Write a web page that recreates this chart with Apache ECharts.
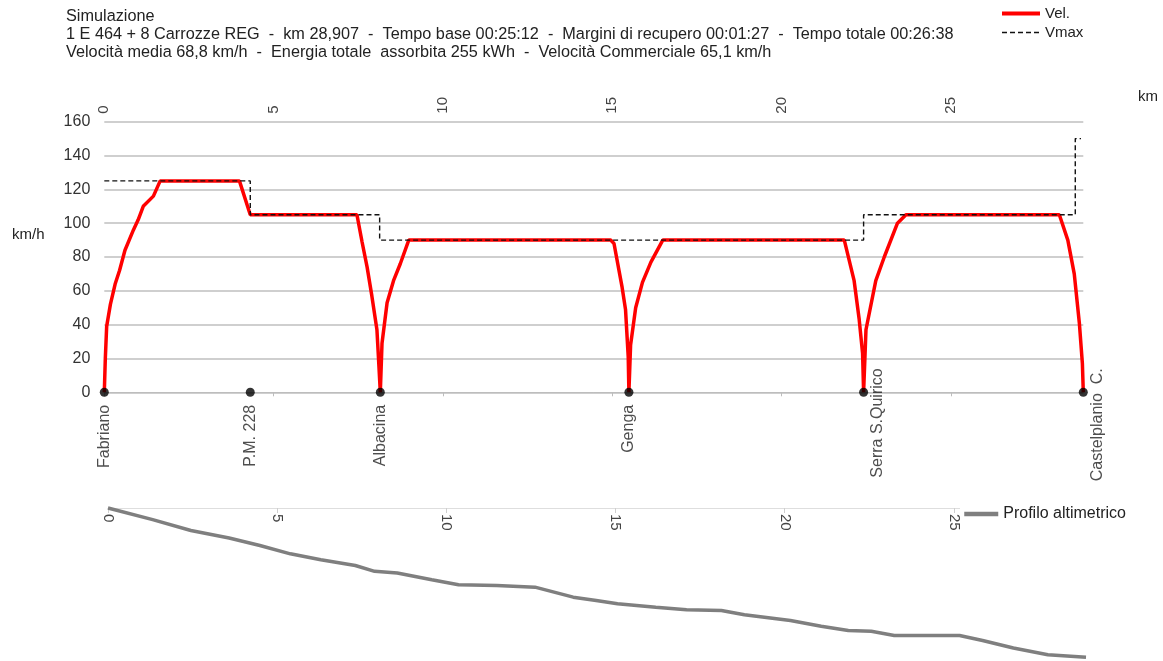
<!DOCTYPE html>
<html>
<head>
<meta charset="utf-8">
<script src="https://cdn.jsdelivr.net/npm/echarts@6/dist/echarts.min.js"></script>
<style>
  html, body { margin: 0; padding: 0; background: #fff; }
  #chart { width: 1163px; height: 661px; }
</style>
</head>
<body>
<div id="chart"></div>
<script>
// Header lines of the run summary
const headerLines = [
  'Simulazione',
  '1 E 464 + 8 Carrozze REG  -  km 28,907  -  Tempo base 00:25:12  -  Margini di recupero 00:01:27  -  Tempo totale 00:26:38',
  'Velocità media 68,8 km/h  -  Energia totale  assorbita 255 kWh  -  Velocità Commerciale 65,1 km/h'
];

// Speed profile (km, km/h)
const velKm = [0, 0.03, 0.07, 0.18, 0.32, 0.45, 0.61, 0.86, 1.0, 1.15, 1.45, 1.65,
  3.99, 4.31,
  7.46, 7.61, 7.76, 7.90, 8.05, 8.11, 8.15,
  8.20, 8.35, 8.54, 8.74, 8.99,
  14.95, 15.05, 15.29, 15.39, 15.47, 15.49,
  15.54, 15.69, 15.89, 16.14, 16.49,
  21.85, 22.14, 22.29, 22.39, 22.42,
  22.49, 22.78, 23.03, 23.42, 23.67,
  28.20, 28.45, 28.64, 28.79, 28.88, 28.907];
const velKmh = [0, 20, 39, 52, 64, 72, 84, 96, 102, 110, 116, 125,
  125, 105,
  105, 89, 74, 57, 37, 15, 0,
  29, 53, 66, 76, 90,
  90, 88, 62, 49, 21, 0,
  28, 50, 65, 77, 90,
  90, 66, 43, 23, 0,
  37, 66, 80, 100, 105,
  105, 90, 70, 41, 17, 0];

// Line speed limit (step profile)
const vmaxKm  = [0, 4.31, 4.31, 8.13, 8.13, 22.42, 22.42, 28.67, 28.67, 28.84];
const vmaxKmh = [125, 125, 105, 105, 90, 90, 105, 105, 150, 150];

// Stations and their kilometric position
const stationNames = ['Fabriano', 'P.M. 228', 'Albacina', 'Genga', 'Serra S.Quirico', 'Castelplanio  C.'];
const stationKm    = [0, 4.31, 8.15, 15.49, 22.42, 28.907];
// labels that sit beside the dot instead of below it
const stationRaised = [false, false, false, false, true, true];

// Altimetric profile (km, m)
const profKm  = [0, 1.32, 2.45, 3.58, 4.49, 5.39, 6.29, 7.31, 7.88, 8.55, 9.57, 10.36, 11.49, 12.62,
  13.75, 14.43, 15.06, 16.19, 17.10, 18.13, 18.81, 20.17, 21.08, 21.88, 22.56, 23.24, 25.17,
  25.85, 26.76, 27.78, 28.907];
const profAlt = [325, 311, 298, 289, 280, 270, 263, 256, 249, 247, 239, 233, 232, 230,
  218, 214, 210, 206, 203, 202, 197, 190, 183, 178, 177, 172, 172,
  166, 157, 149, 146];

const lineKm = 28.907;
const FONT = "'Liberation Sans', Arial, sans-serif";

const zip = (a, b) => a.map((v, i) => [v, b[i]]);

const stationData = stationNames.map((name, i) => {
  const item = { name: name, value: [stationKm[i], 0] };
  if (stationRaised[i]) {
    item.label = { position: [18.5, -19.5] };
  }
  return item;
});

const chart = echarts.init(document.getElementById('chart'), null, { renderer: 'canvas' });

chart.setOption({
  animation: false,
  backgroundColor: '#ffffff',
  textStyle: { fontFamily: FONT },
  title: {
    text: headerLines.join('\n'),
    left: 66,
    top: 8,
    padding: 0,
    textStyle: { fontFamily: FONT, fontSize: 16.25, fontWeight: 'normal', color: '#222', lineHeight: 18 }
  },
  legend: [
    {
      data: [
        { name: 'Vel.', lineStyle: { width: 4 } },
        { name: 'Vmax', lineStyle: { width: 1.4 } }
      ],
      orient: 'vertical',
      left: 1000,
      top: 6,
      itemWidth: 38,
      itemHeight: 14,
      itemGap: 4,
      padding: 0,
      itemStyle: { opacity: 0 },
      textStyle: { fontFamily: FONT, fontSize: 15, color: '#222' }
    },
    {
      data: [{ name: 'Profilo altimetrico', lineStyle: { width: 4.5 } }],
      left: 960,
      top: 504,
      itemWidth: 34,
      itemHeight: 14,
      itemGap: 4,
      padding: [2, 3, 2, 2],
      backgroundColor: '#ffffff',
      itemStyle: { opacity: 0 },
      textStyle: { fontFamily: FONT, fontSize: 16, color: '#222' }
    }
  ],
  graphic: [
    { type: 'text', left: 12, top: 227, style: { text: 'km/h', font: '15px ' + FONT, fill: '#222' } },
    { type: 'text', left: 1138, top: 89, style: { text: 'km', font: '15px ' + FONT, fill: '#222' } }
  ],
  grid: [
    { left: 104.3, top: 121.7, width: 979, height: 270.6, containLabel: false },
    { left: 108, top: 508, width: 978, height: 150, containLabel: false }
  ],
  xAxis: [
    {
      gridIndex: 0, type: 'value', position: 'top', min: 0, max: lineKm, interval: 5,
      axisLine: { show: true, lineStyle: { color: '#bdbdbd', width: 1 } },
      axisTick: { show: true, inside: true, length: 4, lineStyle: { color: '#bdbdbd' } },
      axisLabel: { rotate: 90, margin: 8, fontSize: 15, color: '#444', showMaxLabel: false, fontFamily: FONT },
      splitLine: { show: false }
    },
    {
      gridIndex: 1, type: 'value', position: 'top', min: 0, max: lineKm, interval: 5,
      axisLine: { show: true, lineStyle: { color: '#dedede', width: 1 } },
      axisTick: { show: true, inside: true, length: 5, lineStyle: { color: '#cfcfcf' } },
      axisLabel: { inside: true, rotate: 90, margin: 6, fontSize: 15, color: '#444', showMaxLabel: false, fontFamily: FONT },
      splitLine: { show: false }
    }
  ],
  yAxis: [
    {
      gridIndex: 0, type: 'value', min: 0, max: 160, interval: 20,
      axisLine: { show: false },
      axisTick: { show: false },
      axisLabel: { margin: 14, fontSize: 16, color: '#333', fontFamily: FONT },
      splitLine: { show: true, lineStyle: { color: '#bfbfbf', width: 1.5 } }
    },
    {
      gridIndex: 1, type: 'value', min: 145, max: 325, show: false,
      splitLine: { show: false }
    }
  ],
  series: [
    {
      name: 'Vel.', type: 'line', xAxisIndex: 0, yAxisIndex: 0,
      data: zip(velKm, velKmh),
      showSymbol: false, symbol: 'none',
      lineStyle: { color: '#ff0000', width: 3.5 },
      itemStyle: { color: '#ff0000' },
      z: 2
    },
    {
      name: 'Vmax', type: 'line', xAxisIndex: 0, yAxisIndex: 0,
      data: zip(vmaxKm, vmaxKmh),
      showSymbol: false, symbol: 'none',
      lineStyle: { color: '#111', width: 1.4, type: [5, 3] },
      itemStyle: { color: '#111' },
      clip: false,
      z: 3
    },
    {
      name: 'Stazioni', type: 'scatter', xAxisIndex: 0, yAxisIndex: 0,
      data: stationData,
      symbolSize: 9,
      itemStyle: { color: '#000' },
      clip: false,
      label: {
        show: true,
        formatter: '{b}',
        rotate: 90,
        align: 'right',
        verticalAlign: 'middle',
        position: [4.5, 17],
        fontSize: 16,
        color: '#222',
        fontFamily: FONT
      },
      z: 4
    },
    {
      name: 'Profilo altimetrico', type: 'line', xAxisIndex: 1, yAxisIndex: 1,
      data: zip(profKm, profAlt),
      showSymbol: false, symbol: 'none',
      lineStyle: { color: '#7f7f7f', width: 3.5 },
      itemStyle: { color: '#7f7f7f' },
      clip: false,
      z: 2
    }
  ]
});
</script>
</body>
</html>
